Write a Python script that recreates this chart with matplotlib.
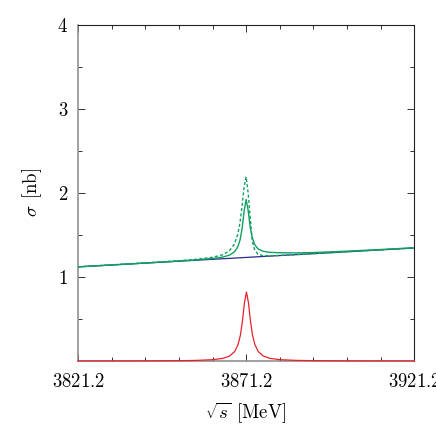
import matplotlib
matplotlib.use("Agg")
import matplotlib.pyplot as plt
from matplotlib.ticker import FixedLocator, NullFormatter

plt.rcParams['mathtext.fontset'] = 'cm'
plt.rcParams['font.family'] = 'DejaVu Serif'

# background (blue)
x_bg = [3821.2, 3921.2]
y_bg = [1.120, 1.345]

# full result (green solid) and alternative (green dashed)
x_g = [3821.2, 3831.2, 3841.2, 3851.2, 3856.2, 3861.2, 3864.2, 3866.2, 3867.7, 3868.7,
       3869.4, 3870.0, 3870.6, 3871.2, 3871.8, 3872.4, 3873.0, 3873.7, 3874.7, 3876.2,
       3878.2, 3881.2, 3886.2, 3891.2, 3901.2, 3911.2, 3921.2]
y_solid = [1.1204, 1.1431, 1.1661, 1.1900, 1.2032, 1.2198, 1.2365, 1.2588, 1.2972, 1.3559,
           1.4404, 1.5748, 1.7831, 1.9225, 1.7939, 1.5952, 1.4716, 1.3881, 1.3354, 1.3058,
           1.2933, 1.2880, 1.2863, 1.2905, 1.3070, 1.3265, 1.3480]
y_dashed = [1.1210, 1.1440, 1.1677, 1.1936, 1.2096, 1.2340, 1.2645, 1.3104, 1.3906, 1.5059,
            1.6524, 1.8438, 2.0731, 2.1925, 2.0019, 1.7152, 1.4366, 1.3281, 1.2704, 1.2538,
            1.2523, 1.2570, 1.2663, 1.2775, 1.3000, 1.3225, 1.3450]

# resonance signal (red)
x_r = [3821.2, 3831.3, 3841.3, 3851.3, 3856.3, 3861.3, 3864.3, 3866.3, 3867.8, 3868.8,
       3869.5, 3870.1, 3870.7, 3871.3, 3871.9, 3872.5, 3873.1, 3873.8, 3874.8, 3876.3,
       3878.3, 3881.3, 3886.3, 3891.3, 3901.3, 3911.3, 3921.2]
y_r = [0.0006, 0.0010, 0.0018, 0.0040, 0.0071, 0.0158, 0.0315, 0.0596, 0.113, 0.196,
       0.309, 0.473, 0.693, 0.820, 0.693, 0.473, 0.309, 0.196, 0.113, 0.0596,
       0.0315, 0.0158, 0.0071, 0.0040, 0.0018, 0.0010, 0.0006]

x_major = [3821.2, 3871.2, 3921.2]
x_minor = [3831.2, 3841.2, 3851.2, 3861.2, 3881.2, 3891.2, 3901.2, 3911.2]
y_major = [1, 2, 3, 4]
y_minor = [0.5, 1.5, 2.5, 3.5]

fig = plt.figure(figsize=(4.36, 4.36), dpi=100)
ax = fig.add_axes([0.179, 0.172, 0.771, 0.771])

ax.plot(x_bg, y_bg, color='#2a2a8a', lw=0.9, zorder=2)
ax.plot(x_g, y_dashed, color='#10a060', lw=1.0, ls=(0, (2.2, 1.6)), zorder=3)
ax.plot(x_g, y_solid, color='#10a060', lw=1.0, zorder=4)
ax.plot(x_r, y_r, color='#e8202a', lw=0.9, zorder=4, clip_on=False)

ax.set_xlim(3821.2, 3921.2)
ax.set_ylim(0, 4)

ax.xaxis.set_major_locator(FixedLocator(x_major))
ax.xaxis.set_minor_locator(FixedLocator(x_minor))
ax.yaxis.set_major_locator(FixedLocator(y_major))
ax.yaxis.set_minor_locator(FixedLocator(y_minor))
ax.set_xticklabels([f'${v:.1f}$' for v in x_major])
ax.set_yticklabels([f'${v}$' for v in y_major])
ax.xaxis.set_minor_formatter(NullFormatter())

ax.tick_params(which='both', direction='in', top=True, right=True, labelsize=13.5,
               width=0.7, color='#333333')
ax.tick_params(which='major', length=5)
ax.tick_params(axis='x', which='major', pad=8.5)
ax.tick_params(axis='y', which='major', pad=7)
ax.tick_params(which='minor', length=3)

for s in ['left', 'bottom']:
    ax.spines[s].set_color('#888888')
    ax.spines[s].set_linewidth(1.1)
for s in ['top', 'right']:
    ax.spines[s].set_color('#222222')
    ax.spines[s].set_linewidth(0.8)

ax.set_xlabel(r'$\sqrt{s}\;\,[\mathrm{MeV}]$', fontsize=13.5, labelpad=7)
ax.set_ylabel(r'$\sigma\;\,[\mathrm{nb}]$', fontsize=13.5, labelpad=10)

fig.savefig('out.png', dpi=100)
